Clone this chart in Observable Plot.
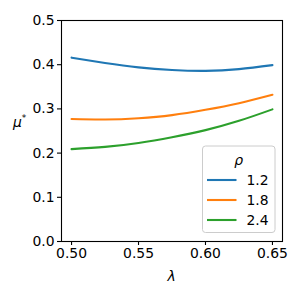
<!DOCTYPE html>
<html>
<head>
<meta charset="utf-8">
<script src="https://cdn.jsdelivr.net/npm/d3@7"></script>
<script src="https://cdn.jsdelivr.net/npm/@observablehq/plot@0.6"></script>
<style>
  html, body { margin: 0; padding: 0; background: white; }
  #chart { width: 300px; height: 300px; }
</style>
</head>
<body>
<div id="chart"></div>
<script>
const lambda = [0.50, 0.525, 0.55, 0.575, 0.60, 0.625, 0.65];
const mu12 = [0.416, 0.404, 0.394, 0.388, 0.386, 0.390, 0.399];
const mu18 = [0.277, 0.276, 0.279, 0.286, 0.298, 0.313, 0.332];
const mu24 = [0.209, 0.214, 0.223, 0.236, 0.252, 0.273, 0.299];
const rhos = ["1.2", "1.8", "2.4"];
const colors = ["#1f77b4", "#ff7f0e", "#2ca02c"];
const xTicks = [0.50, 0.55, 0.60, 0.65];
const yTicks = [0.0, 0.1, 0.2, 0.3, 0.4, 0.5];

const series = [mu12, mu18, mu24];
const rows = [];
series.forEach((s, i) => s.forEach((v, j) => rows.push({lambda: lambda[j], mu: v, rho: rhos[i]})));

const font = "DejaVu Sans, sans-serif";
const fs = 13.9;

const chart = Plot.plot({
  width: 300,
  height: 300,
  marginLeft: 61,
  marginRight: 18,
  marginTop: 20,
  marginBottom: 59,
  style: {fontFamily: font, fontSize: fs + "px", color: "black", background: "white"},
  x: {domain: [0.4925, 0.6575]},
  y: {domain: [0, 0.5]},
  color: {domain: rhos, range: colors},
  marks: [
    Plot.line(rows, {x: "lambda", y: "mu", stroke: "rho", strokeWidth: 2.1, curve: "natural"}),
    Plot.frame({stroke: "black", strokeWidth: 1.1}),
    Plot.axisX({ticks: xTicks, tickFormat: d3.format(".2f"), tickSize: 4, tickPadding: 3, label: null, fontSize: fs, strokeWidth: 1.1}),
    Plot.axisY({ticks: yTicks, tickFormat: d3.format(".1f"), tickSize: 4, tickPadding: 3, label: null, fontSize: fs, strokeWidth: 1.1})
  ]
});

const svg = d3.select(chart);
// x label
svg.append("text")
  .attr("x", 171.5).attr("y", 281)
  .attr("text-anchor", "middle")
  .attr("font-family", font).attr("font-size", fs).attr("font-style", "italic")
  .text("λ");
// y label (horizontal)
const yl = svg.append("text")
  .attr("x", 13).attr("y", 127)
  .attr("text-anchor", "start")
  .attr("font-family", font).attr("font-size", fs).attr("font-style", "italic");
yl.append("tspan").text("μ");
yl.append("tspan").attr("dy", -6).attr("font-size", 9).attr("font-style", "normal").text("*");

// legend
const lg = svg.append("g");
lg.append("rect")
  .attr("x", 202.5).attr("y", 146).attr("width", 72.5).attr("height", 86.5)
  .attr("rx", 3).attr("fill", "white").attr("fill-opacity", 0.8)
  .attr("stroke", "#cccccc").attr("stroke-width", 1);
lg.append("text")
  .attr("x", 238.75).attr("y", 160)
  .attr("text-anchor", "middle").attr("dominant-baseline", "central")
  .attr("font-family", font).attr("font-size", fs).attr("font-style", "italic")
  .text("ρ");
rhos.forEach((r, i) => {
  const y = 180 + i * 20;
  lg.append("line")
    .attr("x1", 207).attr("x2", 236.5).attr("y1", y).attr("y2", y)
    .attr("stroke", colors[i]).attr("stroke-width", 2.1);
  lg.append("text")
    .attr("x", 246.5).attr("y", y)
    .attr("text-anchor", "start")
    .attr("dominant-baseline", "central")
    .attr("font-family", font).attr("font-size", fs)
    .text(r);
});

document.getElementById("chart").appendChild(chart);
</script>
</body>
</html>
